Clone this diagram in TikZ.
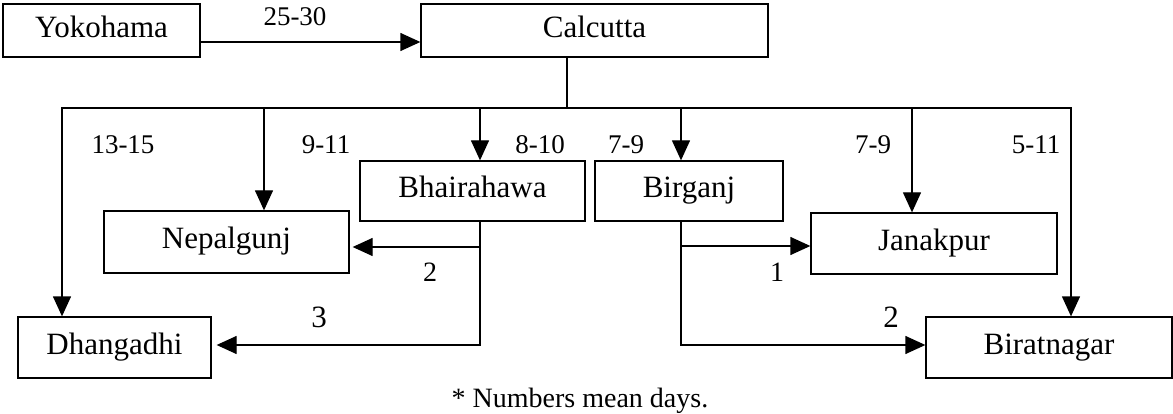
\documentclass[tikz,border=0pt]{standalone}
\usepackage{fontspec}
\setmainfont{Liberation Serif}
\usetikzlibrary{arrows.meta}
\begin{document}
\begin{tikzpicture}[x=1pt,y=-1pt,
  box/.style={draw, line width=1.3pt, inner sep=0pt, font=\fontsize{31}{31}\selectfont, text height=21pt, text depth=7pt},
  conn/.style={line width=1.3pt},
  arr/.style={conn, -{Triangle[length=20pt,width=18pt]}},
  lbl/.style={font=\fontsize{27}{27}\selectfont, inner sep=0pt},
  big/.style={font=\fontsize{31}{31}\selectfont, inner sep=0pt},
  mid/.style={font=\fontsize{28}{28}\selectfont, inner sep=0pt}]
\useasboundingbox (0,0) rectangle (1173,414);
% boxes
\node[box, minimum width=197pt, minimum height=53pt] (yok) at (101.5,30.5) {Yokohama};
\node[box, minimum width=347pt, minimum height=53pt] (cal) at (594.5,30.5) {Calcutta};
\node[box, minimum width=225pt, minimum height=60pt] (bha) at (472.5,191) {Bhairahawa};
\node[box, minimum width=188pt, minimum height=60pt] (bir) at (689,191) {Birganj};
\node[box, minimum width=245pt, minimum height=62pt] (nep) at (226.5,242) {Nepalgunj};
\node[box, minimum width=246pt, minimum height=61pt] (jan) at (934,243.5) {Janakpur};
\node[box, minimum width=193pt, minimum height=61pt] (dha) at (114.5,347.5) {Dhangadhi};
\node[box, minimum width=246pt, minimum height=61pt] (brt) at (1049,347.5) {Biratnagar};
% coordinates
\coordinate (j) at (567,108);
\coordinate (b1) at (62,108);
\coordinate (b2) at (264,108);
\coordinate (b3) at (480,108);
\coordinate (b4) at (681,108);
\coordinate (b5) at (912,108);
\coordinate (b6) at (1071,108);
\coordinate (bh1) at (480,247);
\coordinate (bh2) at (480,345);
\coordinate (bg1) at (681,246);
\coordinate (bg2) at (681,345);
% connectors
\draw[arr] ([yshift=-11.5pt]yok.east) -- ([yshift=-11.5pt]cal.west);
\draw[conn] (j |- cal.south) -- (j);
\draw[arr] (j) -- (b1) -- (b1 |- dha.north);
\draw[arr] (j) -- (b6) -- (b6 |- brt.north);
\draw[arr] (b2) -- (b2 |- nep.north);
\draw[arr] (b3) -- (b3 |- bha.north);
\draw[arr] (b4) -- (b4 |- bir.north);
\draw[arr] (b5) -- (b5 |- jan.north);
\draw[arr, shorten >=3pt] (bh1) -- (bh1 -| nep.east);
\draw[arr, shorten >=5pt] (bh2 |- bha.south) -- (bh2) -- (bh2 -| dha.east);
\draw[arr] (bg1) -- (bg1 -| jan.west);
\draw[arr] (bg2 |- bir.south) -- (bg2) -- (bg2 -| brt.west);
% labels
\node[lbl] (t0) at (295,17) {25-30};
\node[lbl] (t1) at (123,145) {13-15};
\node[lbl] (t2) at (326,145) {9-11};
\node[lbl] (t3) at (540,145) {8-10};
\node[lbl] (t4) at (626,145) {7-9};
\node[lbl] (t5) at (873,145) {7-9};
\node[lbl] (t6) at (1036,145) {5-11};
\node[mid] (n1) at (430,272) {2};
\node[big] (n2) at (319,317) {3};
\node[mid] (n3) at (777,272) {1};
\node[big] (n4) at (891,317) {2};
\node[mid] (note) at (580,401) {* Numbers mean days.};
\end{tikzpicture}
\end{document}
